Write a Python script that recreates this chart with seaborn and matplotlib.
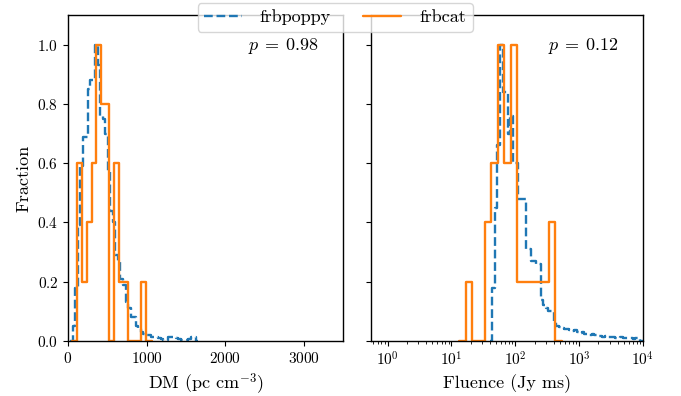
import numpy as np
import pandas as pd
import matplotlib
matplotlib.use("Agg")
import matplotlib.pyplot as plt
import seaborn as sns

# ---------------- data ----------------
# DM panel, frbcat (bin edges in pc cm^-3, fraction per bin)
dm_cat_edges = [115, 174, 238, 302, 350, 420, 526, 589, 653, 760, 929, 999]
dm_cat_frac = [0.6, 0.2, 0.4, 0.6, 1.0, 0.8, 0.0, 0.6, 0.2, 0.0, 0.2]

# DM panel, frbpoppy (uniform bins starting at 60, width 32)
dm_pop_start, dm_pop_width = 60, 32
dm_pop_frac = [0.05, 0.18, 0.39, 0.59, 0.69, 0.69, 0.85, 0.88, 0.88, 1.00,
               0.93, 0.76, 0.75, 0.70, 0.57, 0.44, 0.40, 0.29, 0.27, 0.21,
               0.19, 0.13, 0.11, 0.08, 0.08, 0.05, 0.04, 0.03, 0.025, 0.02,
               0.02, 0.015, 0.015, 0.012, 0.01, 0.008, 0.005, 0.004, 0.012, 0.015,
               0.012, 0.01, 0.006, 0.004, 0.003, 0.004, 0.008, 0.012, 0.012]

# Fluence panel, frbcat (log10 bins starting at 1.225, width 0.1 dex)
fl_cat_start, fl_cat_width = 1.225, 0.1
fl_cat_frac = [0.2, 0.0, 0.0, 0.4, 0.6, 1.0, 0.6, 1.0, 0.2, 0.2, 0.2, 0.2, 0.2, 0.4]

# Fluence panel, frbpoppy (log10 bins starting at 1.64, width 0.04 dex)
fl_pop_start, fl_pop_width = 1.64, 0.04
fl_pop_frac = [0.18, 0.45, 0.66, 1.00, 0.84, 0.84, 0.70, 0.76, 0.60, 0.60,
               0.48, 0.48, 0.48, 0.31, 0.31, 0.27, 0.27, 0.26, 0.26, 0.14,
               0.12, 0.11, 0.10, 0.10, 0.065, 0.05,
               0.046, 0.045, 0.04, 0.042, 0.038, 0.035, 0.036, 0.03, 0.028, 0.03,
               0.024, 0.022, 0.02, 0.022, 0.02, 0.018, 0.016, 0.015, 0.017, 0.014,
               0.013, 0.012, 0.011, 0.01, 0.012, 0.01, 0.01, 0.009, 0.009, 0.008,
               0.009, 0.008]

p_values = [0.98, 0.12]
series_labels = ["frbpoppy", "frbcat"]
x_labels = [r"DM (pc cm$^{-3}$)", "Fluence (Jy ms)"]
y_label = "Fraction"
dm_ticks = [0, 1000, 2000, 3000]
frac_ticks = [0.0, 0.2, 0.4, 0.6, 0.8, 1.0]

# ---------------- style ----------------
sns.set_style("ticks")
plt.rcParams.update({
    "font.family": "serif",
    "font.serif": ["cmr10", "DejaVu Serif"],
    "mathtext.fontset": "cm",
    "axes.formatter.use_mathtext": True,
    "axes.unicode_minus": False,
    "xtick.direction": "out",
    "ytick.direction": "out",
    "axes.edgecolor": "black",
    "axes.linewidth": 1.0,
    "xtick.color": "black",
    "ytick.color": "black",
    "text.color": "black",
    "axes.labelcolor": "black",
})

blue, orange = "#1f77b4", "#ff7f0e"


def step_hist(ax, edges, fracs, log, **kw):
    edges = np.asarray(edges, float)
    fr = np.asarray(fracs, float)
    w0, w1 = edges[1] - edges[0], edges[-1] - edges[-2]
    edges = np.concatenate([[edges[0] - w0], edges, [edges[-1] + w1]])
    fr = np.concatenate([[0.0], fr, [0.0]])
    centers = 0.5 * (edges[:-1] + edges[1:])
    x = 10 ** centers if log else centers
    df = pd.DataFrame({"x": x, "w": fr})
    sns.histplot(data=df, x="x", weights="w", bins=list(edges), element="step",
                 fill=False, log_scale=log, ax=ax, **kw)


fig = plt.figure(figsize=(6.81, 3.96), dpi=100)
ax1 = fig.add_axes([68 / 681, 55 / 396, 275 / 681, 326 / 396])
ax2 = fig.add_axes([371 / 681, 55 / 396, 272 / 681, 326 / 396], sharey=ax1)

# DM panel
dm_pop_edges = dm_pop_start + dm_pop_width * np.arange(len(dm_pop_frac) + 1)
step_hist(ax1, dm_pop_edges, dm_pop_frac, False, color=blue, linestyle="--",
          linewidth=1.7, label=series_labels[0])
step_hist(ax1, dm_cat_edges, dm_cat_frac, False, color=orange, linestyle="-",
          linewidth=1.7, label=series_labels[1])

# Fluence panel
fl_pop_edges = fl_pop_start + fl_pop_width * np.arange(len(fl_pop_frac) + 1)
fl_cat_edges = fl_cat_start + fl_cat_width * np.arange(len(fl_cat_frac) + 1)
step_hist(ax2, fl_pop_edges, fl_pop_frac, True, color=blue, linestyle="--",
          linewidth=1.7, label=series_labels[0])
step_hist(ax2, fl_cat_edges, fl_cat_frac, True, color=orange, linestyle="-",
          linewidth=1.7, label=series_labels[1])

ax1.set_xlim(0, 3500)
ax1.set_xticks(dm_ticks)
ax1.set_ylim(0, 1.1)
ax1.set_yticks(frac_ticks)
ax1.set_xlabel(x_labels[0], fontsize=13)
ax1.set_ylabel(y_label, fontsize=13)

ax2.set_xscale("log")
ax2.set_xlim(0.55, 1e4)
ax2.set_xlabel(x_labels[1], fontsize=13)
ax2.set_ylabel("")
ax2.tick_params(axis="y", labelleft=False)

for ax, p in zip([ax1, ax2], p_values):
    for s in ax.spines.values():
        s.set_visible(True)
        s.set_color("black")
    ax.tick_params(labelsize=11)
    ax.text(0.91, 0.905, rf"$p\:=\:{p:.2f}$", transform=ax.transAxes,
            ha="right", va="center", fontsize=13)

handles, labels = ax1.get_legend_handles_labels()
fig.legend(handles, labels, loc="upper center", bbox_to_anchor=(0.492, 0.992),
           ncol=2, fontsize=13, columnspacing=1.8, handlelength=2.1,
           handletextpad=1.0, borderpad=0.35, borderaxespad=0.0,
           frameon=True, fancybox=True)

fig.savefig("out.png", dpi=100)
